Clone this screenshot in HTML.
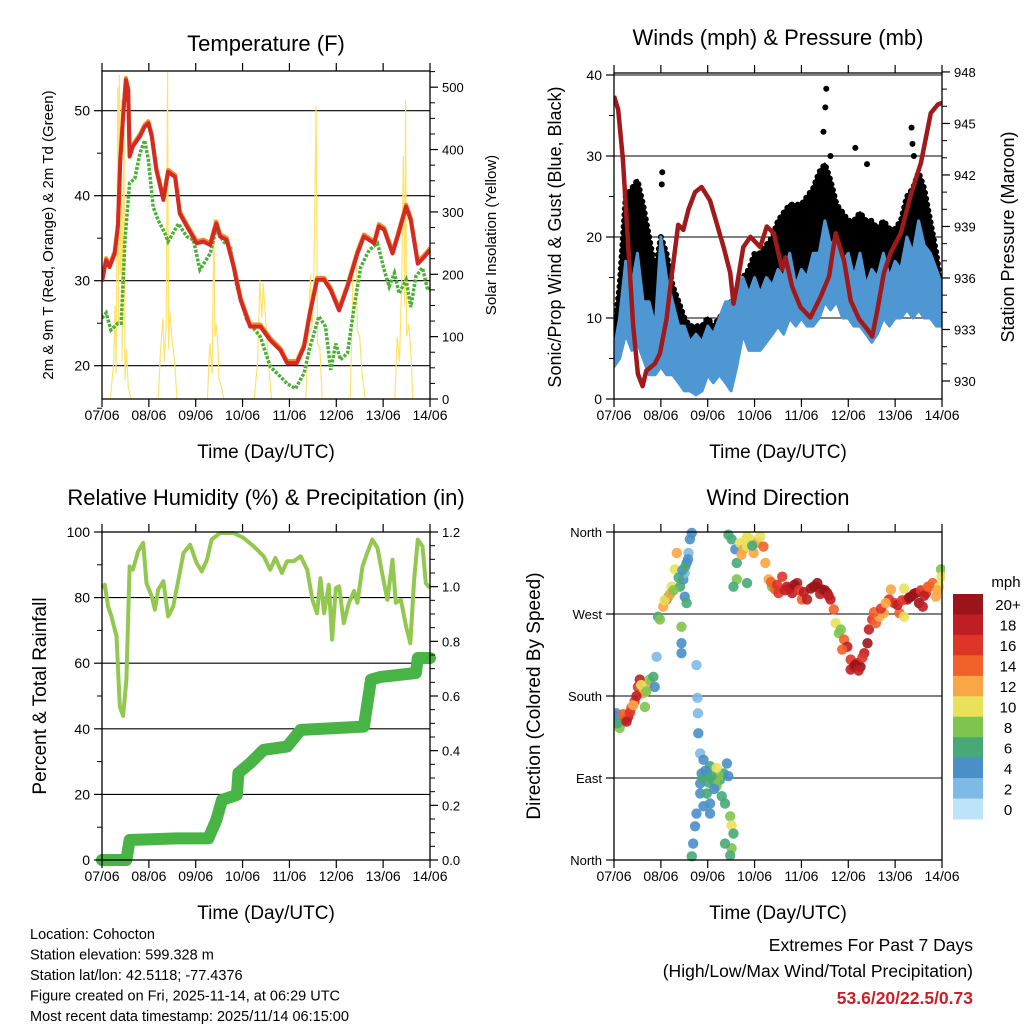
<!DOCTYPE html>
<html><head><meta charset="utf-8"><style>
html,body{margin:0;padding:0;background:#fff;}
svg{display:block;font-family:"Liberation Sans",Arial,sans-serif;}
</style></head><body>
<svg id="c" width="1024" height="1024" viewBox="0 0 1024 1024" xmlns="http://www.w3.org/2000/svg"></svg>
<script>
// ---------- DATA ----------
const dayLabels=["07/06","08/06","09/06","10/06","11/06","12/06","13/06","14/06"];
const tempT=[0,.09,.16,.27,.34,.39,.45,.51,.56,.59,.66,.81,.91,.99,1.06,1.16,1.31,1.41,1.56,1.66,1.81,2.02,2.16,2.31,2.44,2.52,2.66,2.81,2.96,3.16,3.38,3.59,3.81,3.95,4.16,4.31,4.44,4.59,4.74,4.88,5.06,5.24,5.45,5.59,5.81,5.91,6.02,6.2,6.31,6.49,6.59,6.74,6.88,7.0];
const tempV=[29.9,32.4,31.6,33.2,36.4,44.2,49.3,53.6,52.4,44.6,45.8,47,48.1,48.5,47,43,39.5,42.8,42.2,37.9,36.4,34.4,34.6,34.2,36.7,35.2,34.8,31.6,27.7,24.6,24.6,23,21.8,20.3,20.3,22.2,26.2,30.1,30.1,28.9,26.5,29.3,33.2,35.2,34.4,36.4,36,33.2,35.2,38.7,37.1,32,32.8,33.6];
const dewT=[0,.09,.19,.34,.41,.49,.59,.7,.81,.91,.99,1.09,1.2,1.34,1.41,1.63,1.81,1.95,2.09,2.31,2.44,2.59,2.74,2.88,3.09,3.38,3.59,3.81,3.95,4.13,4.31,4.44,4.63,4.77,4.88,4.99,5.09,5.24,5.38,5.52,5.7,5.88,6.02,6.13,6.24,6.34,6.49,6.59,6.7,6.84,6.95,7.0];
const dewV=[25.6,26.2,24.2,25,25,34.8,41.5,42,45,46.5,44.2,38.7,37.1,35.6,34.6,36.7,35.2,34.8,31.3,33.2,36.2,34.6,34,29.3,25.4,23.4,19.9,18.7,17.9,17.3,19.1,22.2,25.8,24.6,19.5,22.6,20.7,21.5,26.9,31.6,33.6,34.4,31.3,29.3,30.9,28.5,30.1,26.9,30.5,31.5,28.9,29.1];
const solarT=[.18,.25,.28,.3,.32,.34,.355,.37,.39,.41,.43,.45,.47,.49,.52,.56,.62,1.2,1.25,1.3,1.33,1.37,1.4,1.42,1.45,1.5,1.55,1.6,2.25,2.3,2.35,2.39,2.41,2.44,2.47,2.5,2.55,2.6,3.25,3.32,3.37,3.41,3.44,3.5,3.55,3.62,4.35,4.4,4.45,4.48,4.52,4.57,4.6,4.65,4.7,5.3,5.36,5.42,5.45,5.5,5.55,5.62,6.25,6.3,6.35,6.4,6.43,6.46,6.48,6.5,6.55,6.6,6.63];
const solarV=[0,60,150,40,260,500,120,520,200,480,60,300,440,30,80,20,0,0,80,130,60,120,525,80,140,90,60,0,0,90,40,290,100,120,90,30,20,0,0,60,190,130,185,120,60,0,0,100,200,110,190,470,90,80,0,0,220,230,110,100,40,0,0,100,60,200,390,150,480,100,120,60,0];
const presT=[0,.09,.19,.3,.41,.51,.61,.69,.87,.98,1.12,1.23,1.37,1.48,1.59,1.73,1.87,2.05,2.19,2.34,2.48,2.55,2.62,2.76,2.91,3.12,3.26,3.41,3.59,3.66,3.8,3.98,4.19,4.41,4.59,4.73,4.91,5.05,5.23,5.41,5.51,5.62,5.76,5.91,6.12,6.34,6.55,6.76,6.91,7.0];
const presV=[946.6,945.8,942.9,938,933.2,930.4,929.7,930.6,931,931.6,933.6,936.1,939.1,938.8,940,941,941.3,940.5,939.2,937.8,936.3,934.5,935.5,937.8,938.4,937.8,939,938.6,936.5,937.2,935.5,934.3,933.7,934.9,936.1,938.6,937,934.7,933.6,933,932.6,934.1,936.3,937.5,938.6,940.9,942.7,945.6,946.1,946.2];
const windT=[0,.12,.25,.38,.5,.62,.75,.88,1,1.12,1.25,1.38,1.5,1.62,1.75,1.88,2,2.12,2.25,2.38,2.5,2.62,2.75,2.88,3,3.12,3.25,3.38,3.5,3.62,3.75,3.88,4,4.12,4.25,4.38,4.5,4.62,4.75,4.88,5,5.12,5.25,5.38,5.5,5.62,5.75,5.88,6,6.12,6.25,6.38,6.5,6.62,6.75,6.88,7];
const windHi=[6,10,17,14,18,12,12,9,20,15,12,9,9,7,8,7,9,8,10,12,12,14,15,13,15,13,15,14,16,15,18,14,16,15,18,18,22,19,20,17,18,15,18,14,16,15,18,15,17,16,20,18,22,19,18,16,14];
const windLo=[4,5,8,6,7,5,3,3,4,3,3,2,1,1,0.5,1,3,2,3,2,1,4,8,6,6,6,7,8,9,8,10,9,10,9,9,10,12,11,12,10,10,9,9,8,7,8,10,9,10,10,11,10,11,10,10,9,9];
const gustHi=[8,14,25,26,27,24,20,16,20,18,14,12,10,9,9,9,10,9,10,11,12,13,15,16,18,18,19,20,22,23,24,24,24,25,26,28,29,27,24,23,22,22,23,22,22,21,22,21,21,22,25,26,28,26,22,18,13];
const gustOutT=[0.52,1.03,1.02,3.87,4.53,4.51,4.47,6.35,6.37,6.4,5.15,2.18,2.22,0.38,0.4,4.62,5.4];
const gustOutV=[26.5,28,26.5,19.5,38.3,36,33,33.5,31.5,30,31,8.5,7.5,24,23,30,29];
const rhT=[0,.06,.13,.2,.31,.38,.45,.52,.59,.66,.77,.88,.95,1.06,1.13,1.2,1.31,1.41,1.52,1.63,1.74,1.88,2.02,2.13,2.24,2.34,2.52,2.81,3.02,3.24,3.45,3.59,3.7,3.84,3.95,4.09,4.24,4.38,4.49,4.59,4.66,4.74,4.84,4.91,4.99,5.06,5.16,5.27,5.38,5.45,5.56,5.66,5.77,5.88,5.99,6.09,6.2,6.27,6.38,6.49,6.58,6.66,6.74,6.84,6.91,7.0];
const rhV=[82.9,83.9,77.3,74.3,68.2,46.8,43.9,55,89.5,88.5,94.1,96.7,84.4,80.4,76.3,82.4,85,74.3,77.3,85.4,93.6,96.1,90.5,88,91.6,97.7,99.7,99.7,98.2,95.6,92.6,88.5,92.1,87.5,91.1,91.1,92.6,88.5,79.3,75.2,85.9,75.2,83.9,67.2,82.9,83.4,72.2,78.4,82,78.4,89.5,93.6,97.7,95.1,86.5,79.3,91.6,78.4,79.3,71.2,66.1,85.4,97.7,95.6,84.4,82.9];
const rainT=[0,.52,.59,1.59,2.27,2.44,2.56,2.88,2.91,3.16,3.45,3.95,4.24,5.59,5.74,5.95,6.7,6.74,7.0];
const rainV=[0,0,.073,.079,.079,.146,.22,.238,.318,.354,.403,.415,.476,.488,.66,.67,.684,.739,.739];
const dirT=[.01,.05,.09,.12,.16,.23,.3,.37,.44,.51,.55,.62,.66,.73,.76,.84,.87,.91,.94,.98,1.05,1.12,1.16,1.23,1.3,1.34,1.41,1.48,1.55,1.59,1.62,1.66,1.44,1.44,1.44,1.51,1.55,1.51,1.76,1.78,1.79,1.8,1.84,1.87,1.84,1.91,1.73,1.76,1.69,1.66,1.98,2.05,2.12,2.19,2.26,2.34,2.41,1.98,2.05,2.16,2.23,2.37,2.48,2.51,2.55,2.51,2.48,1.91,2.19,2.44,1.84,2.05,2.37,2.44,2.51,2.59,2.62,2.69,2.76,2.84,2.91,2.98,3.05,3.12,3.19,2.84,2.62,2.55,2.84,3.23,3.3,3.37,3.44,3.51,3.59,3.69,3.8,3.91,4.01,4.12,4.26,4.34,4.44,4.55,4.62,4.69,4.73,4.8,4.91,4.98,5.05,5.12,5.19,5.26,5.34,5.41,5.44,5.51,5.59,5.66,5.76,5.87,5.91,5.98,6.09,6.19,6.19,6.26,6.34,6.44,6.51,6.59,6.66,6.73,6.8,6.87,6.94,6.98,6.99,5.05,4.84,4.87,
 .03,.07,.2,.27,.34,.41,.48,.58,.69,1.08,1.2,1.27,1.38,1.46,1.52,1.58,1.9,1.95,2.02,2.08,2.14,2.3,2.72,2.8,2.95,3.35,3.48,3.65,3.75,3.85,3.95,4.05,4.2,4.3,4.4,4.5,4.58,5.15,5.22,5.3,5.55,5.7,5.8,6.05,6.15,6.3,6.4,6.55,6.62,6.7,6.9];
const dirV=[154,161,150,145,157,154,157,167,174,190,198,183,168,190,198,201,190,223,267,264,278,286,289,300,319,337,300,308,326,337,352,359,256,238,227,289,282,315,214,178,161,139,117,95,73,59,37,51,18,4,95,103,88,81,88,95,106,73,62,84,92,62,48,38,29,13,5,110,101,92,84,51,18,357,352,341,326,348,341,344,352,337,348,355,344,355,308,300,304,326,308,300,297,293,311,300,293,304,286,286,300,304,297,293,286,275,260,249,242,234,220,212,216,212,227,238,253,264,260,267,271,286,297,282,271,267,298,286,289,293,282,278,293,300,304,289,300,319,311,209,253,231,
 158,150,160,152,162,170,180,192,185,285,292,296,310,318,322,330,90,98,85,92,78,70,335,350,345,305,302,296,298,302,296,294,298,300,292,296,290,214,208,222,272,276,282,280,285,288,292,296,290,300,296];
const dirS=[3,4,6,8,10,16,18,14,16,16,18,12,8,12,8,6,4,2,6,8,12,16,8,10,10,12,6,5,4,3,4,5,8,4,4,4,6,3,2,2,3,4,3,4,4,4,4,4,4,6,6,6,7,8,7,6,4,6,4,8,9,6,8,10,7,8,7,4,10,5,5,4,6,6,6,4,6,10,12,10,10,12,12,10,14,10,8,6,6,12,12,8,14,16,16,18,18,18,14,18,20,20,20,20,18,14,10,8,14,18,16,20,18,20,18,20,18,16,14,12,12,16,12,16,14,10,10,20,20,20,20,18,16,14,14,12,10,8,10,18,8,14,
 4,6,14,18,16,12,18,10,8,10,12,8,6,4,6,4,6,4,6,6,4,6,12,10,6,14,16,18,18,20,16,18,20,20,18,20,18,20,18,16,14,16,12,18,16,20,20,16,18,14,12];
const barLabels=["20+","18","16","14","12","10","8","6","4","2","0"];
const barColors=["#9b1419","#bf1e24","#de3528","#f1622a","#f8a646","#e9e15a","#7fc44f","#48a877","#4a8fc8","#7ebae6","#bde3f7"];

// ---------- HELPERS ----------
const S=document.getElementById('c');
const NS='http://www.w3.org/2000/svg';
function mk(tag,attrs,name,parent){
  const el=document.createElementNS(NS,tag);
  for(const k in attrs) el.setAttribute(k,attrs[k]);
  
  
  (parent||S).appendChild(el);
  return el;
}
function txt(x,y,s,size,name,opts){
  opts=opts||{};
  const a={x:x,y:y,'font-size':size,fill:opts.fill||'#000','text-anchor':opts.anchor||'middle'};
  if(opts.rot) a.transform='rotate(-90 '+x+' '+y+')';
  if(opts.weight) a['font-weight']=opts.weight;
  const t=mk('text',a,name);
  t.textContent=s;
  return t;
}
function pts(T,V,fx,fy){return T.map((t,i)=>fx(t).toFixed(1)+','+fy(V[i]).toFixed(1)).join(' ');}
function frame(L,T,R,B,name){mk('rect',{x:L,y:T,width:R-L,height:B-T,fill:'none',stroke:'#000','stroke-width':1.3},name);}
function clip(id,L,T,R,B){const cp=mk('clipPath',{id:id},id);mk('rect',{x:L,y:T,width:R-L,height:B-T},id+'-rect',cp);}
function xAxis(L,R,T,B,name){
  const fx=d=>L+d*(R-L)/7;
  for(let i=0;i<=7;i++){
    mk('line',{x1:fx(i),x2:fx(i),y1:B,y2:B+8,stroke:'#000','stroke-width':1.2},name+'-tick');
    mk('line',{x1:fx(i),x2:fx(i),y1:T,y2:T-8,stroke:'#000','stroke-width':1.2},name+'-top-tick');
    txt(fx(i),B+21,dayLabels[i],14,name+'-label');
  }
  txt((L+R)/2,B+59,'Time (Day/UTC)',19,name+'-title');
}
function yTicks(side,X,fy,majors,minors,labels,name,fs){
  const dir=side==='left'?-1:1;
  majors.forEach((v,i)=>{
    mk('line',{x1:X,x2:X+dir*8,y1:fy(v),y2:fy(v),stroke:'#000','stroke-width':1.2},name+'-tick');
    if(labels) txt(X+dir*12,fy(v)+5,labels[i],fs||14,name+'-label',{anchor:side==='left'?'end':'start'});
  });
  minors.forEach(v=>mk('line',{x1:X,x2:X+dir*5,y1:fy(v),y2:fy(v),stroke:'#000','stroke-width':1},name+'-minor-tick'));
}
function grid(L,R,ys,name){ys.forEach(y=>mk('line',{x1:L,x2:R,y1:y,y2:y,stroke:'#000','stroke-width':1.1},name));}

// ---------- PANEL 1: TEMPERATURE ----------
(function(){
  const L=102,R=430,T=71,B=399;
  const fx=d=>L+d*(R-L)/7;
  const fy=v=>365.7-(v-20)*8.5;
  const fs=v=>399-v*0.6236;
  clip('clip1',L,T,R,B);
  grid(L,R,[20,30,40,50].map(fy),'temp-gridline');
  const g=mk('g',{'clip-path':'url(#clip1)'},'temp-plot-area');
  mk('polyline',{points:pts(solarT,solarV,fx,fs),fill:'none',stroke:'#fde36a','stroke-width':1.2},'solar-insolation-line',g);
  mk('polyline',{points:pts(dewT,dewV,fx,fy),fill:'none',stroke:'#4caf3a','stroke-width':3.5,'stroke-dasharray':'3 1.5'},'dewpoint-line',g);
  mk('polyline',{points:pts(tempT,tempV.map(v=>v+0.25),fx,fy),fill:'none',stroke:'#f08a2a','stroke-width':4,'stroke-linejoin':'round'},'temp-9m-line',g);
  mk('polyline',{points:pts(tempT,tempV,fx,fy),fill:'none',stroke:'#d42a22','stroke-width':4,'stroke-linejoin':'round'},'temp-2m-line',g);
  frame(L,T,R,B,'temp-frame');
  xAxis(L,R,T,B,'temp-x-axis');
  yTicks('left',L,fy,[20,30,40,50],[15,25,35,45],['20','30','40','50'],'temp-y-axis');
  const sm=[];for(let v=0;v<=525;v+=25)if(v%100)sm.push(v);
  yTicks('right',R,fs,[0,100,200,300,400,500],sm,['0','100','200','300','400','500'],'solar-y-axis',13);
  txt(266,51,'Temperature (F)',22,'temp-title');
  txt(53,235,'2m & 9m T (Red, Orange) & 2m Td (Green)',15,'temp-y-title',{rot:true});
  txt(496,235,'Solar Insolation (Yellow)',15,'solar-y-title',{rot:true});
})();

// ---------- PANEL 2: WINDS & PRESSURE ----------
(function(){
  const L=614,R=942,T=73,B=399;
  const fx=d=>L+d*(R-L)/7;
  const fy=v=>399-v*8.1;
  const fp=p=>381-(p-930)*17.17;
  clip('clip2',L,T,R,B);
  grid(L,R,[10,20,30,40].map(fy),'wind-gridline');
  const g=mk('g',{'clip-path':'url(#clip2)'},'wind-plot-area');
  const up=windT.map((t,i)=>fx(t).toFixed(1)+','+fy(gustHi[i]).toFixed(1)).join(' ');
  const dn=windT.map((t,i)=>fx(t).toFixed(1)+','+fy(windLo[i]+1).toFixed(1)).reverse().join(' ');
  mk('polygon',{points:up+' '+dn,fill:'#000',stroke:'#000','stroke-width':3,'stroke-linejoin':'round'},'gust-dots-cloud',g);
  mk('polyline',{points:up,fill:'none',stroke:'#000','stroke-width':6,'stroke-dasharray':'0 6','stroke-linecap':'round'},'gust-dots-edge',g);
  gustOutT.forEach((t,i)=>{mk('circle',{cx:fx(t),cy:fy(gustOutV[i]),r:3,fill:'#000'},'gust-dot',g);});
  const bu=windT.map((t,i)=>fx(t).toFixed(1)+','+fy(windHi[i]).toFixed(1)).join(' ');
  const bd=windT.map((t,i)=>fx(t).toFixed(1)+','+fy(windLo[i]).toFixed(1)).reverse().join(' ');
  mk('polygon',{points:bu+' '+bd,fill:'#4f97d2',stroke:'#4f97d2','stroke-width':3,'stroke-linejoin':'round'},'wind-speed-band',g);
  mk('polyline',{points:pts(presT,presV,fx,fp),fill:'none',stroke:'#a01a1c','stroke-width':4.5,'stroke-linejoin':'round'},'pressure-line',g);
  frame(L,T,R,B,'wind-frame');
  xAxis(L,R,T,B,'wind-x-axis');
  yTicks('left',L,fy,[0,10,20,30,40],[5,15,25,35],['0','10','20','30','40'],'wind-y-axis');
  const pm=[];for(let p=930;p<=948;p++)if(p%3)pm.push(p);
  yTicks('right',R,fp,[930,933,936,939,942,945,948],pm,['930','933','936','939','942','945','948'],'pressure-y-axis',13);
  txt(778,45,'Winds (mph) & Pressure (mb)',22,'wind-title');
  txt(561,237,'Sonic/Prop Wind & Gust (Blue, Black)',18,'wind-y-title',{rot:true});
  txt(1014,237,'Station Pressure (Maroon)',18,'pressure-y-title',{rot:true});
})();

// ---------- PANEL 3: RH & PRECIP ----------
(function(){
  const L=102,R=430,T=532,B=860;
  const fx=d=>L+d*(R-L)/7;
  const fy=v=>860-v*3.28;
  const fr=p=>860-p/1.2*328;
  clip('clip3',L-8,T-8,R+8,B+8);
  grid(L,R,[20,40,60,80].map(fy),'rh-gridline');
  const g=mk('g',{'clip-path':'url(#clip3)'},'rh-plot-area');
  mk('polyline',{points:pts(rhT,rhV,fx,fy),fill:'none',stroke:'#92c84f','stroke-width':4,'stroke-linejoin':'round'},'humidity-line',g);
  mk('polyline',{points:pts(rainT,rainV,fx,fr),fill:'none',stroke:'#48b446','stroke-width':12,'stroke-linejoin':'round','stroke-linecap':'round'},'precip-line',g);
  frame(L,T,R,B,'rh-frame');
  xAxis(L,R,T,B,'rh-x-axis');
  yTicks('left',L,fy,[0,20,40,60,80,100],[10,30,50,70,90],['0','20','40','60','80','100'],'rh-y-axis');
  const rm=[];for(let i=0;i<=24;i++)if(i%4)rm.push(i*0.05);
  yTicks('right',R,fr,[0,.2,.4,.6,.8,1,1.2],rm,['0.0','0.2','0.4','0.6','0.8','1.0','1.2'],'precip-y-axis',13);
  txt(266,505,'Relative Humidity (%) & Precipitation (in)',22,'rh-title');
  txt(46,696,'Percent & Total Rainfall',19,'rh-y-title',{rot:true});
})();

// ---------- PANEL 4: WIND DIRECTION ----------
(function(){
  const L=614,R=942,T=532,B=860;
  const fx=d=>L+d*(R-L)/7;
  const fy=v=>860-v*0.9111;
  const col=s=>barColors[10-Math.min(10,Math.floor(s/2))];
  clip('clip4',L,T-5,R+3,B+3);
  grid(L,R,[90,180,270].map(fy),'dir-gridline');
  const g=mk('g',{'clip-path':'url(#clip4)'},'dir-plot-area');
  dirT.forEach((t,i)=>{
    mk('circle',{cx:fx(t),cy:fy(dirV[i]),r:5.2,fill:col(dirS[i]),'fill-opacity':0.9},'direction-point',g);
  });
  frame(L,T,R,B,'dir-frame');
  xAxis(L,R,T,B,'dir-x-axis');
  yTicks('left',L,fy,[0,90,180,270,360],[],['North','East','South','West','North'],'dir-y-axis',13);
  txt(778,505,'Wind Direction',22,'dir-title');
  txt(540,696,'Direction (Colored By Speed)',19,'dir-y-title',{rot:true});
  const bh=(819-594)/11;
  barColors.forEach((c,i)=>{
    mk('rect',{x:953,y:594+i*bh,width:30,height:bh+0.5,fill:c},'colorbar-box');
    txt(1008,594+i*bh+bh/2+6,barLabels[i],15,'colorbar-label');
  });
  txt(1006,587,'mph',15,'colorbar-title');
})();

// ---------- FOOTER TEXT ----------
const info=["Location: Cohocton","Station elevation: 599.328 m","Station lat/lon: 42.5118; -77.4376","Figure created on Fri, 2025-11-14, at 06:29 UTC","Most recent data timestamp: 2025/11/14 06:15:00"];
info.forEach((s,i)=>txt(30,939+i*20.5,s,14.5,'station-info-line',{anchor:'start'}));
txt(973,951,'Extremes For Past 7 Days',17.5,'extremes-title',{anchor:'end'});
txt(973,977,'(High/Low/Max Wind/Total Precipitation)',17.5,'extremes-subtitle',{anchor:'end'});
txt(973,1004,'53.6/20/22.5/0.73',17.5,'extremes-values',{anchor:'end',fill:'#c8202a',weight:'bold'});
</script>
</body></html>
